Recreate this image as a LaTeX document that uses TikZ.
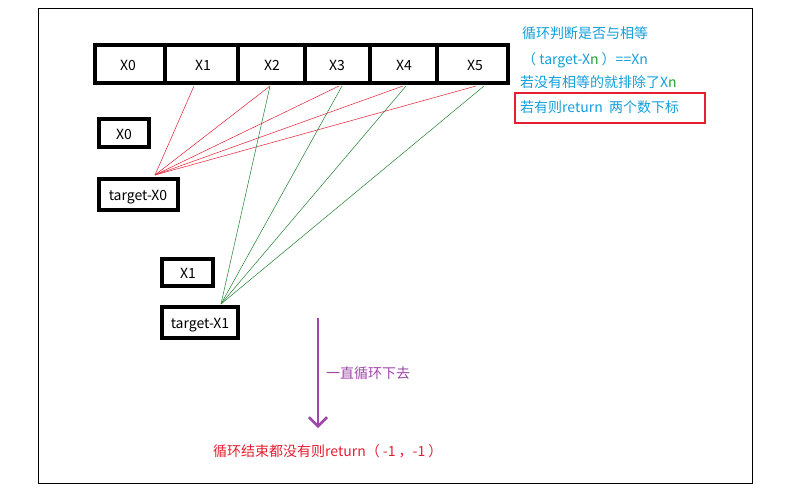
\documentclass[tikz,border=0pt]{standalone}
\usepackage{fontspec}
\setmainfont{Noto Sans CJK SC}
\usetikzlibrary{arrows.meta}
\definecolor{cy}{RGB}{20,160,220}
\definecolor{gn}{RGB}{40,160,60}
\definecolor{rd}{RGB}{230,30,50}
\definecolor{pu}{RGB}{160,70,170}
\begin{document}
\begin{tikzpicture}[x=1pt,y=-1pt,
  thk/.style={draw=black,line width=4.5pt,fill=white},
  lbl/.style={font=\fontsize{14}{16}\selectfont,inner sep=0pt},
  rl/.style={rd,line width=0.5pt},
  gl/.style={gn!80!black,line width=0.5pt},
  note/.style={font=\fontsize{14}{16}\selectfont,text=cy,anchor=west,inner sep=0pt}]
\useasboundingbox (0,0) rectangle (785,491);
\fill[white] (0,0) rectangle (785,491);
\draw[black,line width=0.8pt] (38,8) rectangle (752,483);
% top row
\draw[thk] (95,45) rectangle (508,83);
\foreach \x in {165,238,305,370,437} \draw[black,line width=4.5pt] (\x,45) -- (\x,83);
\node[lbl] (a0) at (128,65) {X0};
\node[lbl] (a1) at (203,65) {X1};
\node[lbl] (a2) at (272,65) {X2};
\node[lbl] (a3) at (337,65) {X3};
\node[lbl] (a4) at (404,65) {X4};
\node[lbl] (a5) at (475,65) {X5};
\coordinate (b1) at (194,86);
\coordinate (b2) at (270,86);
\coordinate (b3) at (339,86);
\coordinate (b4) at (403,86);
\coordinate (b5) at (476,86);
\coordinate (b3g) at (342,86);
\coordinate (b4g) at (406,86);
\coordinate (b5g) at (484,86);
% left boxes
\draw[thk] (99,119) rectangle (149,147);
\node[lbl] (x0) at (124,134) {X0};
\draw[thk] (99,179) rectangle (178,210);
\node[lbl] (t0) at (138,197) {target-X0};
\draw[thk] (162,259) rectangle (213,286);
\node[lbl] (x1) at (188,273) {X1};
\draw[thk] (162,307) rectangle (238,338);
\node[lbl] (t1) at (200,325) {target-X1};
\coordinate (p0) at (155,175);
\coordinate (p1) at (221,304);
\foreach \b in {b1,b2,b3,b4,b5} \draw[rl] (p0) -- (\b);
\foreach \b in {b2,b3g,b4g,b5g} \draw[gl] (p1) -- (\b);
% notes
\node[note] (n1) at (522,33) {循环判断是否与相等};
\node[note] (n2) at (522,60) {（ target-X\textcolor{gn}{n} ）==Xn};
\node[note] (n3) at (520,82) {若没有相等的就排除了X\textcolor{gn}{n}};
\node[note] (n4) at (520,107) {若有则return\ \ 两个数下标};
\draw[rd,line width=1.5pt] (515,93) rectangle (705,123);
% arrow
\coordinate (s) at (318,318);
\coordinate (e) at (318,428);
\draw[pu,line width=2.5pt,-{Straight Barb[length=9pt,width=18pt,line width=2.5pt]}] (s) -- (e);
\node[lbl,text=pu,anchor=west] (al) at (326,373) {一直循环下去};
\node[lbl,text=rd,anchor=west] (fin) at (213,451) {循环结束都没有则return（ -1 ，-1 ）};
\end{tikzpicture}
\end{document}
